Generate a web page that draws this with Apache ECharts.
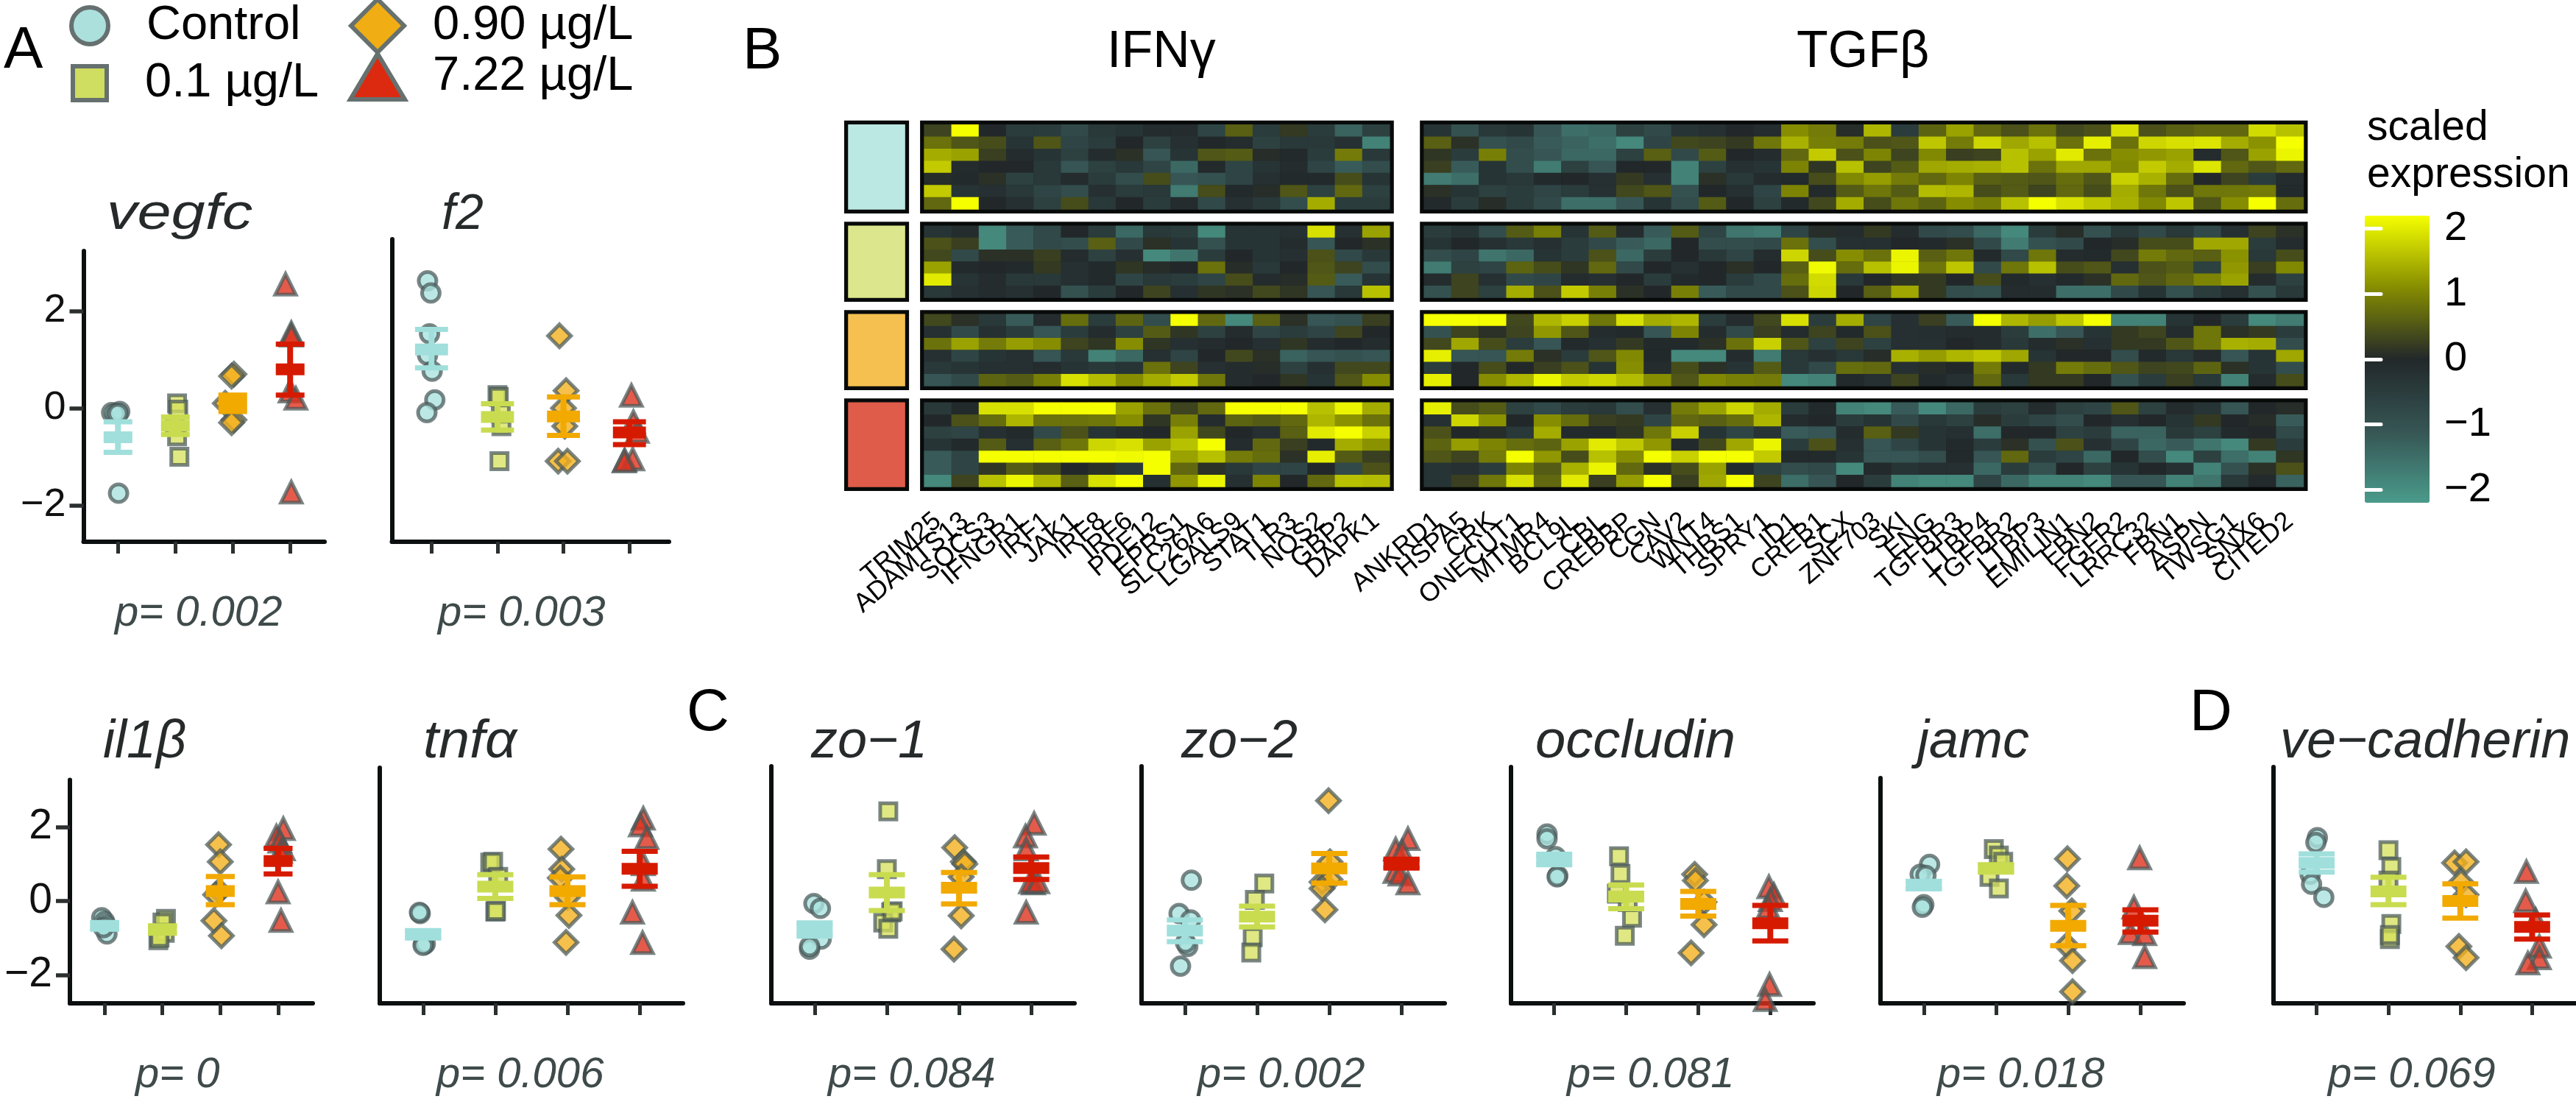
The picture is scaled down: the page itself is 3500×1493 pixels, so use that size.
<!DOCTYPE html>
<html><head><meta charset="utf-8">
<style>html,body{margin:0;padding:0;background:#fff}#c{width:3500px;height:1493px}</style>
<script src="https://cdn.jsdelivr.net/npm/echarts@6/dist/echarts.min.js"></script>
</head><body><div id="c"></div>
<script>
// ---------- data: dose groups ----------
const doseNames = ['Control', '0.1 µg/L', '0.90 µg/L', '7.22 µg/L'];
const doseSymbols = ['circle', 'rect', 'diamond', 'triangle'];
const doseSizes = [24, 22, 31, 28];
const doseFills = ['rgba(170,226,222,0.8)', 'rgba(214,224,90,0.75)', 'rgba(243,176,30,0.8)', 'rgba(222,50,30,0.8)'];
const doseBars = ['#a0dfdc', '#c9dc50', '#f2a900', '#d61a00'];
const legendFills = ['#abe0dd', '#cfdd60', '#f0ae14', '#dc2a10'];
const groupFills = ['#bce8e3', '#dce68c', '#f6c050', '#e05c4a'];
const yTicks = [-2, 0, 2];
const xTicks = [1, 2, 3, 4];

// ---------- data: points [x position, value] per dose, mean, upper and lower error ----------
const vegfcPts = [[[0.89,-0.09],[1.03,-0.07],[0.95,-0.11],[1,-0.11],[1.01,-1.75]],[[2.03,0.1],[2.05,-0.03],[2.03,-0.58],[2.07,-1],[1.99,-0.37]],[[3.02,0.7],[2.98,0.66],[3.02,-0.24],[2.98,-0.3],[2.87,0.1]],[[3.92,2.55],[4.02,1.55],[4.02,1.5],[4,0.35],[4.1,0.2],[4.02,-1.73]]];
const vegfcMean = [-0.6,-0.36,0.1,0.8];
const vegfcHi = [-0.28,-0.18,0.27,1.32];
const vegfcLo = [-0.91,-0.54,-0.07,0.27];
const f2Pts = [[[0.94,2.62],[0.99,2.37],[0.97,1.53],[0.94,1.09],[1.01,0.76],[1.05,0.17],[0.93,-0.09]],[[2,0.27],[2.02,0.23],[2.03,-1.09],[2.06,-0.37],[2.05,-0.11]],[[2.94,1.49],[3.04,0.36],[3.02,-0.37],[2.92,-1.09],[3.06,-1.09],[3,0]],[[4.03,0.26],[4.06,-0.28],[4.12,-0.48],[3.93,-1.07],[4.05,-1.05],[3.92,-1.09]]];
const f2Mean = [1.21,-0.18,-0.17,-0.5];
const f2Hi = [1.62,0.09,0.23,-0.28];
const f2Lo = [0.83,-0.45,-0.56,-0.75];
const il1bPts = [[[0.95,-0.45],[1,-0.55],[1.02,-0.65],[1.04,-0.89],[0.98,-0.72]],[[2.06,-0.48],[2,-0.58],[2.04,-0.86],[1.93,-1.06],[1.95,-0.99]],[[2.97,1.52],[3,1.06],[2.98,0.27],[2.92,0.17],[2.89,-0.53],[3.02,-0.94]],[[4.09,1.95],[3.97,1.75],[4.03,1.61],[4.09,1.4],[4.04,1.33],[4,0.24],[4.05,-0.53]]];
const il1bMean = [-0.67,-0.77,0.27,1.08];
const il1bHi = [-0.59,-0.67,0.66,1.42];
const il1bLo = [-0.75,-0.87,-0.1,0.73];
const tnfaPts = [[[0.96,-0.34],[0.95,-0.31],[1.01,-1.16],[1.03,-1.16],[1,-1.2]],[[1.93,1.04],[1.97,1.06],[2,-0.29],[2.01,-0.27],[2.04,0.65]],[[2.91,1.4],[2.92,0.86],[2.9,0.62],[3,0.1],[3.02,-0.39],[2.98,-1.12]],[[4.05,2.23],[4.01,2.05],[4.1,1.71],[4.05,1],[4.05,0.58],[3.9,-0.31],[4.04,-1.13]]];
const tnfaMean = [-0.9,0.39,0.27,0.87];
const tnfaHi = [-0.8,0.71,0.65,1.34];
const tnfaLo = [-1,0.07,-0.1,0.4];
const zo1Pts = [[[0.99,-0.07],[1.08,-0.2],[1.09,-1.03],[0.93,-1.3],[0.93,-1.23]],[[2.02,2.42],[2,0.86],[2.06,-0.31],[1.95,-0.58],[2.02,-0.75],[2.08,-0.28]],[[2.94,1.44],[3.06,1.06],[3.08,1],[3.03,0.65],[3.03,-0.4],[2.93,-1.3]],[[4.04,2.09],[3.92,1.75],[3.93,1.4],[4.03,0.48],[3.99,0.51],[4.09,0.51],[3.93,-0.31]]];
const zo1Mean = [-0.77,0.23,0.36,0.89];
const zo1Hi = [-0.59,0.71,0.77,1.19];
const zo1Lo = [-0.95,-0.26,-0.08,0.58];
const zo2Pts = [[[1.09,0.56],[0.92,-0.34],[1.08,-0.51],[1.04,-1.23],[1.01,-1.13],[0.94,-1.76]],[[2.1,0.47],[1.97,0.03],[1.94,-0.98],[1.92,-1.39]],[[2.99,2.71],[3.01,1.06],[2.9,0.51],[3.01,0.58],[2.94,-0.24],[2.9,0.34]],[[4.09,1.68],[3.92,1.4],[4.01,1.34],[3.91,0.79],[3.98,0.72],[4.09,0.48]]];
const zo2Mean = [-0.8,-0.42,0.88,1.01];
const zo2Hi = [-0.51,-0.14,1.28,1.13];
const zo2Lo = [-1.1,-0.7,0.48,0.89];
const occludinPts = [[[0.9,1.81],[0.9,1.68],[1.05,0.68],[1.04,0.65],[1.02,1.2]],[[1.9,1.21],[1.92,0.73],[1.87,0.2],[2.08,-0.45],[1.98,-0.94],[2.02,-0.03]],[[2.95,0.72],[2.96,0.55],[3.08,-0.03],[3.08,-0.64],[2.9,-1.4]],[[3.98,0.38],[4.05,0.17],[4,0.03],[3.97,-0.17],[3.99,-2.26],[3.93,-2.67]]];
const occludinMean = [1.12,0.12,-0.08,-0.6];
const occludinHi = [1.26,0.43,0.26,-0.12];
const occludinLo = [0.98,-0.21,-0.41,-1.08];
const jamcPts = [[[1.08,0.99],[0.95,0.72],[1.03,0.69],[1,-0.1],[0.98,-0.17]],[[1.97,1.4],[2.04,1.23],[2.1,1.06],[1.91,0.65],[2.04,0.34]],[[2.99,1.14],[2.98,0.41],[3.05,-0.27],[2.98,-1.2],[3.06,-1.61],[3.06,-2.45]],[[3.99,1.16],[3.91,-0.17],[3.86,-0.86],[4.06,-0.89],[4.06,-1.51]]];
const jamcMean = [0.43,0.88,-0.67,-0.53];
const jamcHi = [0.53,0.98,-0.12,-0.24];
const jamcLo = [0.33,0.78,-1.21,-0.84];
const vecadPts = [[[1.01,1.71],[0.99,1.58],[0.91,0.72],[0.93,0.45],[1.1,0.1]],[[2,1.37],[2.04,0.92],[2,0.55],[2.04,-0.62],[2.02,-1.03],[2.02,-0.92]],[[2.92,1.03],[3.08,1.06],[3.01,0.51],[3.08,0.17],[2.98,-1.23],[3.08,-1.53]],[[3.92,0.79],[3.91,0],[4.05,-0.51],[4.1,-1.23],[4.1,-1.54],[3.94,-1.68]]];
const vecadMean = [1.03,0.26,0,-0.7];
const vecadHi = [1.27,0.64,0.46,-0.38];
const vecadLo = [0.78,-0.1,-0.46,-1.03];

// ---------- data: heatmap ----------
const ifnGenes = ['TRIM25','ADAMTS13','SOCS3','IFNGR1','IRF1','JAK1','IRF8','IRF6','PDE12','EPRS1','SLC26A6','LGALS9','STAT1','TLR3','NOS2','GBP2','DAPK1'];
const tgfGenes = ['ANKRD1','HSPA5','CRK','ONECUT1','MTMR4','BCL9L','CBL','CREBBP','CGN','CAV2','WNT4','THBS1','SPRY1','ID1','CREB1','SCX','ZNF703','SKI','ENG','TGFBR3','LTBP4','TGFBR2','LTBP3','EMILIN1','FBN2','FGFR2','LRRC32','FBN1','ASPN','TWSG1','SNX6','CITED2'];
const ifnControl = [
[.3,2.2,0,-.5,-.5,-.8,-.4,-.3,-.1,-.1,-.7,.6,-.5,.2,-.5,-1.3,-.6],
[.8,.5,.4,-.3,.5,-.7,-.5,0,-.6,-.2,0,-.1,-.6,-.4,-.4,-.2,-1.8],
[1.4,1.3,.25,-.1,-.3,-.6,-.1,.1,-1.1,-.3,.5,.55,.05,-.05,-.5,.9,-.4],
[1.7,-.1,0,0,-.4,-1.1,-.6,-.4,-.7,-1.4,-.05,-.7,-.3,-.1,-.7,-1.2,-.9],
[.05,-.05,.1,-.6,-.4,-.1,-.5,-.9,.4,-1.1,-1,-.7,-.2,-.05,-.05,.4,-.3],
[1.7,-.3,-.2,-.4,-.7,-.9,-.2,-.5,-.4,-1.7,.4,-.05,.05,.5,-.6,.7,-.6],
[.7,2.2,0,-.2,-.6,.4,-.4,0,-.5,-.1,-.8,-.2,-.4,-.9,1.4,-.5,-.5]];
const ifnLow = [
[-.3,-.1,-1.9,-1.2,-.8,0,-.5,-1.4,-.4,-.5,-1.9,-.3,-.3,-.2,1.9,-.2,1.3],
[.45,.25,-1.9,-1.2,-.8,-.9,.6,-.8,.1,-.3,-1,-.3,-.3,-.1,-1.1,0,.1],
[.35,-.8,.1,.1,.25,-.1,-.6,-.2,-1.9,-1.6,-.5,0,-.3,-.2,.45,-.8,-.4],
[1.3,-.05,0,-.05,.2,-.2,-.05,.15,.05,0,.8,.05,-.4,0,.5,.3,-.9],
[2,-.3,-.1,-.4,-.4,-.2,-.05,-.7,-.4,-.5,-.7,.4,-.1,.05,.55,-1.2,-.3],
[-.4,-.2,-.1,-.2,0,-1,-.5,0,.3,-.2,.15,.1,.35,.15,-1.1,-.4,1.6]];
const ifnMid = [
[.35,.1,-.4,-1.2,-.1,.75,-.5,.65,-.9,2.2,.7,-1.9,.6,.1,-1.1,-1,.25],
[-.2,-.8,-.2,-.5,-1.1,-.5,-.1,-.6,.55,.15,-.6,-.1,-.7,-.5,-.7,.3,0],
[.8,1.3,.9,1.25,1.1,.3,.15,1.1,.15,-.2,-.1,0,-.2,.15,-.1,0,-.1],
[-.2,-.7,-.3,-.2,-1.1,-.4,-1.8,-1.4,-.2,-.7,0,.35,.1,-1.3,-1.1,-1,-1.1],
[-.4,-.3,-.2,-.2,-.1,-.3,-.4,-.3,.8,.3,-.2,-.1,.05,-.6,-.2,.35,.35],
[-1.1,-.8,.65,.55,.95,1.9,1.55,1.1,1.4,1.7,.85,-.1,0,.15,-.3,.5,1.1]];
const ifnHigh = [
[-.4,-.05,1.9,1.9,2.2,2.2,2.2,1.3,.8,.3,.7,2.2,2.2,2.2,1.6,2.1,1.4],
[0,.45,.75,1.5,.8,.8,.85,1.1,.15,.95,-.1,.65,.55,.7,1.5,1.15,.8],
[-.6,-.7,-.2,-.05,-.8,.45,-.3,-.1,0,1.3,.35,0,-.2,.6,2,2.2,1.75],
[-.3,-.05,.55,-.2,.6,.85,1.8,1.9,1.3,1.6,2.2,-.1,.7,.25,-.05,1.4,1.15],
[-1.2,-.7,2.2,2.2,2.2,2.2,2.2,2.15,2.2,1.3,1.6,.9,.75,.1,2.05,.55,.25],
[-1.2,-.7,.15,.55,.35,0,.1,-.4,2.2,.7,.1,-.4,-.7,-.7,0,-.8,.45],
[-1.9,.3,1.6,2.1,1.5,.6,1.9,2.2,-.2,1.2,2.1,-.2,1,0,.7,1.6,1.55]];
const tgfControl = [
[-.3,-1,-.4,-.3,-1.1,-1.5,-1.4,-.6,-.8,-.3,-.2,0,-.1,1.1,.9,.05,1.5,-.5,.65,1.3,.7,.45,.8,.35,.45,1.9,.45,.6,.7,.7,1.85,1.6],
[.6,.1,-1,-.8,-1.2,-1.3,-1.5,-1.9,-.7,.35,.3,.2,.85,1.45,.95,.9,.45,.5,1.65,.9,1.8,1.35,1.6,.8,2.05,.8,1.8,1.9,1.95,1.4,1.15,2.2],
[.15,-.5,.95,-.9,-1.1,-1.4,-1.4,-.6,.6,-.8,.55,0,-.1,.7,1.7,.45,1,.3,1.05,.25,.3,1.6,1.3,2,.8,1.1,1.2,1.3,-.1,.5,1.3,2.1],
[.25,-1.2,-.3,-.9,-1.7,-.6,-1.1,0,0,-1.8,-.6,-.2,-.3,1,.15,1.6,.3,.55,1.35,1.4,1.45,1.6,.8,1.35,1.35,1.05,1.7,1.4,1.95,.7,.5,.7],
[-1.7,-1.5,-.3,-.4,-.05,0,-.2,.2,-.2,-1.8,.1,-.4,-.1,-.05,.4,1.05,1.25,.9,.7,1,.6,.55,.5,.75,.5,1.75,1.45,.75,0,.3,-.5,-.1],
[.1,-.3,-.6,-.5,-.7,-.5,-.2,.35,.5,-1,0,-.2,-.7,1,-.05,.55,.85,.55,1.55,1.5,.4,.55,.3,.7,.4,1.4,.85,.45,.85,.85,.9,-.05],
[-.05,-.5,.05,-.5,-.8,-1.5,-1.5,-1.1,-.3,-.9,.55,0,-.6,-.05,.35,1.4,.4,.85,.65,1.1,.95,1.6,2.2,1.9,1.65,1.45,1.05,1.65,.5,1.1,2.2,.75]];
const tgfLow = [
[-.5,-.3,-.9,.55,.95,-.3,.55,-.1,-1.2,.55,-.7,-1.6,-1.7,-.7,.05,-.1,.2,-.1,-.8,-.9,-1.4,-1.9,-.5,.05,-1,-.4,-.8,-.4,-.8,-.2,.3,.1],
[-.3,0,-.2,-.4,-.2,-.5,-.8,-1.2,-1.4,0,-.9,-.9,-.8,.8,-.9,-.2,-.2,0,-.05,.1,-.8,-1.7,-1,-.8,0,.05,.4,.4,1.35,1.35,-.5,-.1],
[-.9,-.7,-1.6,-1.4,-.3,-.5,.45,-1.4,-.5,0,-.4,-.7,-.1,1.8,.4,1.1,.8,2.1,.6,.85,-.05,-.8,.85,-.1,-.05,.35,.9,.7,.6,1.15,-.4,.4],
[-1.7,-.6,-.7,.65,.4,.15,.7,-.8,0,-.2,0,.1,0,.6,2.15,.75,1.6,2.1,.85,1.65,-.8,.85,1.6,.4,.5,-.2,.45,.55,-.6,1.2,.25,1.05],
[-.1,.3,-.2,-.8,-.7,-.1,-.2,0,-.5,-.05,0,-.5,-.8,.75,1.85,-.4,0,.15,.2,0,.4,-.05,-.2,-.05,.1,.7,.5,.7,1,1.3,-.1,-.6],
[-1,.3,-.6,1.4,.45,1.7,.95,.1,0,.95,-1.2,-.8,-.8,.45,1.8,0,.6,1.35,.2,-.9,-1,-.1,-.1,-1.5,-1.5,-.8,-.3,-1,-.5,-.2,-1,-.4]];
const tgfMid = [
[2.2,2.2,2.2,.35,1.5,1.75,.85,1.9,1.4,1.5,-.5,-.1,.35,1.9,-.5,1.4,-.7,-.2,.25,-1.2,2.2,1.5,1.25,1.65,2.2,-1.8,-1.8,-.3,0,-.5,-1.9,-1.7],
[-1,.3,.1,.3,1.2,.5,-.1,-.05,-1.1,1,-.1,-.8,.25,-.1,.3,-.05,.45,-.2,-.15,-.1,-.1,-.5,-1.5,-1.1,-.3,.2,.3,-.1,.85,.1,.2,-.5],
[.35,1.35,.4,-.5,-1.1,-.05,-.2,.2,-.05,-.05,.1,.8,1.75,.5,-.6,.3,-.6,-.2,-.2,0,-.1,-.4,-.1,.1,-.2,.2,.2,.5,.85,1.45,1.4,-.9],
[2.05,-1.1,-1.1,.9,.1,-.5,.5,1.05,-.02,-1.9,-1.9,-.1,-1.7,-.4,-.2,-.4,.05,1.45,1.25,1.5,1.65,1.35,-.3,0,0,-.9,-.05,-.4,-.1,-1.1,-.3,1.35],
[-.5,0,.4,0,.25,.45,-.3,1.1,-.1,.4,.1,-.3,.55,-.4,-.8,.75,.7,-.2,.05,0,.9,-.05,.2,.9,.75,.5,.3,.35,.65,.1,-.3,-.9],
[2.05,0,1.1,1.5,2.1,1.7,1.8,1.55,1.1,.5,1.05,.95,.9,-1.9,-1.8,-.05,-.2,.3,-.05,-.2,.7,-.4,.2,.2,0,-1,-.5,.25,-.4,-1.8,-.1,.4]];
const tgfHigh = [
[2.05,.4,.55,-.6,-.8,-.5,-.4,-.9,-.2,.9,1.3,1.8,1.4,-.5,-.05,-1.8,-1.9,-1.2,-1.9,-1.4,-.5,-.6,-.1,-.6,-.7,.5,-.6,-.1,-.3,-1.1,0,.05],
[-.2,1.8,1.15,0,1.1,.75,.25,.2,-.7,.7,.6,.75,1.5,-.1,0,-.5,-.3,-.8,-.4,-.6,.05,-.5,-.7,-.9,0,-.2,0,-.3,.2,0,.05,-1.2],
[.45,0,.05,-.4,1.4,-.05,-.05,.15,.85,1.75,-.3,-.7,-.3,-1.2,-1.1,-.1,.6,.2,-.3,-.2,-1.5,0,0,-.6,-.5,-1.3,-1.3,-.4,-.6,-.05,0,-.8],
[.65,1.25,1,.75,.65,1.3,2,1.65,1.2,-.05,.35,1.35,2.1,-.5,.45,-.2,-1.1,-.7,-.3,-.05,-.5,.1,-1,.45,-.2,-.7,-1.4,-1.2,-1.6,-1.9,.2,-.5],
[.5,.3,.9,2.2,1.2,.4,1.6,1.1,2.2,1.75,2.2,2.2,1.7,-.05,-.05,-.3,-1.1,-1.1,-.9,-.05,-1.1,.7,-.5,-.7,-1.4,0,-.9,-1.9,-.6,-1.5,-1.8,.15],
[-.3,-.2,-.5,1,.55,1.45,2.1,.7,.1,.4,1.3,-.05,-.6,-.9,-.8,-1.9,-.05,-.3,-.2,-.2,-1.4,-.5,-1,0,-.6,-.3,0,-.2,-1.8,-1,.1,.45],
[-.3,.25,.85,1.9,.7,2,.25,1.25,2.2,.25,1.35,2.2,.3,-1.5,-1.1,0,-.5,-1.8,-1.9,-1.9,-.7,-1.4,-1.8,-1.8,-1.9,-1.1,-1.1,-1.8,-1.6,-.4,-.05,-1.3]];
const scaleTicks = [-2, -1, 0, 1, 2];
const scaleColors = ['#4a9b8b', '#365554', '#22282a', '#868d00', '#f5ff00'];

// ---------- layout ----------
const FONT = '"Liberation Sans", Arial, sans-serif';
const topRow = { zero: 554.5, unit: 66, bottom: 736, pY: 851, tY: 312, tSize: 68 };
const botRow = { zero: 1224, unit: 50.3, bottom: 1363, pY: 1478, tY: 1030, tSize: 72 };
const panels = [
 {t:'vegfc', row:topRow, l:113.5, r:441, top:341, ticks:true, pts:vegfcPts, m:vegfcMean, hi:vegfcHi, lo:vegfcLo, p:'p= 0.002', tX:145, tS:1.22, pX:156},
 {t:'f2', row:topRow, l:532.5, r:909, top:325, pts:f2Pts, m:f2Mean, hi:f2Hi, lo:f2Lo, p:'p= 0.003', tX:600, tS:1, pX:595},
 {t:'il1β', row:botRow, l:95, r:425, top:1059.5, ticks:true, pts:il1bPts, m:il1bMean, hi:il1bHi, lo:il1bLo, p:'p= 0', tX:140, tS:1, pX:184},
 {t:'tnfα', row:botRow, l:516, r:928, top:1043, pts:tnfaPts, m:tnfaMean, hi:tnfaHi, lo:tnfaLo, p:'p= 0.006', tX:575, tS:1.05, pX:593},
 {t:'zo−1', row:botRow, l:1048, r:1460, top:1041, pts:zo1Pts, m:zo1Mean, hi:zo1Hi, lo:zo1Lo, p:'p= 0.084', tX:1102, tS:1, pX:1125},
 {t:'zo−2', row:botRow, l:1551, r:1963, top:1041, pts:zo2Pts, m:zo2Mean, hi:zo2Hi, lo:zo2Lo, p:'p= 0.002', tX:1605, tS:1, pX:1627},
 {t:'occludin', row:botRow, l:2053, r:2464, top:1042, pts:occludinPts, m:occludinMean, hi:occludinHi, lo:occludinLo, p:'p= 0.081', tX:2086, tS:1.03, pX:2129},
 {t:'jamc', row:botRow, l:2555, r:2967, top:1057, pts:jamcPts, m:jamcMean, hi:jamcHi, lo:jamcLo, p:'p= 0.018', tX:2605, tS:1, pX:2632},
 {t:'ve−cadherin', row:botRow, l:3089, r:3499, top:1042, pts:vecadPts, m:vecadMean, hi:vecadHi, lo:vecadLo, p:'p= 0.069', tX:3098, tS:1, pX:3163}
];
const heatRows = [
 {top:169.3, bottom:284.4, ifn:ifnControl, tgf:tgfControl},
 {top:306.8, bottom:404.4, ifn:ifnLow, tgf:tgfLow},
 {top:426.8, bottom:524.4, ifn:ifnMid, tgf:tgfMid},
 {top:546.8, bottom:661.6, ifn:ifnHigh, tgf:tgfHigh}
];
const annX = [1152.5, 1229.6], ifnX = [1255.6, 1888.3], tgfX = [1934.7, 3130];

const grid = [], xAxis = [], yAxis = [], series = [], graphic = [], heatIdx = [];
const label = (text, x, baseline, size, extra) => graphic.push(Object.assign({
  type:'text', x, y:baseline + size*0.212, silent:true, z:20,
  style:{text, fontSize:size, fontFamily:FONT, fill:'#000', verticalAlign:'bottom', align:'left'}
}, extra && extra.scaleX ? {scaleX:extra.scaleX} : {}, extra && extra.style ? {style:Object.assign({text, fontSize:size, fontFamily:FONT, fill:'#000', verticalAlign:'bottom', align:'left'}, extra.style)} : {}));

// ---------- dot-plot panels ----------
function crossbar(params, api) {
  const x = api.value(0), c = doseBars[x-1];
  const pm = api.coord([x, api.value(1)]), ph = api.coord([x, api.value(2)]), pl = api.coord([x, api.value(3)]);
  const w = api.size([0.5, 0])[0];
  const rect = (cx, y, wd, h) => ({type:'rect', shape:{x:cx-wd/2, y, width:wd, height:h}, style:{fill:c}});
  return {type:'group', children:[
    rect(pm[0], ph[1], 8, pl[1]-ph[1]),
    rect(pm[0], ph[1]-3.5, w, 7),
    rect(pm[0], pl[1]-3.5, w, 7),
    rect(pm[0], pm[1]-8, w, 16)
  ]};
}
panels.forEach(p => {
  const g = grid.length, R = p.row;
  grid.push({left:p.l, top:p.top, width:p.r-p.l, height:R.bottom-p.top});
  xAxis.push({gridIndex:g, type:'value', min:0.4, max:4.6, splitLine:{show:false},
    axisLine:{onZero:false, lineStyle:{color:'#0c0f0f', width:6}},
    axisTick:{customValues:xTicks, length:16, lineStyle:{color:'#2b2f2f', width:5}},
    axisLabel:{show:false}});
  yAxis.push({gridIndex:g, type:'value', min:(R.zero-R.bottom)/R.unit, max:(R.zero-p.top)/R.unit, splitLine:{show:false},
    axisLine:{onZero:false, lineStyle:{color:'#0c0f0f', width:6}},
    axisTick:p.ticks ? {customValues:yTicks, length:19, lineStyle:{color:'#2b2f2f', width:5.5}} : {show:false},
    axisLabel:p.ticks ? {customValues:yTicks, margin:24, fontSize:R===topRow?54:57, color:'#111', fontFamily:FONT,
      formatter:v => String(v).replace('-', '−')} : {show:false}});
  p.pts.forEach((pts, d) => series.push({
    type:'scatter', name:doseNames[d], xAxisIndex:g, yAxisIndex:g, data:pts, z:3,
    symbol:doseSymbols[d], symbolSize:doseSizes[d], clip:true, silent:true,
    itemStyle:{color:doseFills[d], borderColor:'rgba(72,88,88,0.72)', borderWidth:5, opacity:1}
  }));
  series.push({type:'custom', xAxisIndex:g, yAxisIndex:g, z:5, silent:true, renderItem:crossbar,
    encode:{x:0, y:[1,2,3]},
    data:xTicks.map((x,i) => [x, p.m[i], p.hi[i], p.lo[i]])});
  label(p.t, p.tX, R.tY, R.tSize, {scaleX:p.tS, style:{fontStyle:'italic', fill:'#262a2a'}});
  label(p.p, p.pX, R.pY, 58, {style:{fontStyle:'italic', fill:'#3f4a4a'}});
});

// ---------- heatmaps ----------
function heatCells(m) { const out=[]; m.forEach((row,r)=>row.forEach((v,c)=>out.push([c,r,v]))); return out; }
function block(xr, rowDef, genes, matrix, showLabels) {
  const g = grid.length;
  grid.push({left:xr[0], top:rowDef.top, width:xr[1]-xr[0], height:rowDef.bottom-rowDef.top, show:true,
    backgroundColor:'#000', borderColor:'#080a0a', borderWidth:11});
  xAxis.push({gridIndex:g, type:'category', data:genes, axisLine:{show:false}, axisTick:{show:false}, splitLine:{show:false},
    axisLabel:showLabels ? {show:true, interval:0, rotate:40, margin:42, fontSize:36, color:'#000', fontFamily:FONT} : {show:false}});
  yAxis.push({gridIndex:g, type:'category', inverse:true, data:matrix.map((_,i)=>i), axisLine:{show:false}, axisTick:{show:false}, axisLabel:{show:false}, splitLine:{show:false}});
  return g;
}
heatRows.forEach((rowDef, i) => {
  const last = i === heatRows.length-1;
  // annotation block for the dose
  const a = block(annX, rowDef, ['dose'], [[0]], false);
  series.push({type:'heatmap', xAxisIndex:a, yAxisIndex:a, silent:true, z:2, data:[[0,0,i]], itemStyle:{color:groupFills[i]}});
  [[ifnX, ifnGenes, rowDef.ifn], [tgfX, tgfGenes, rowDef.tgf]].forEach(([xr, genes, m]) => {
    const g = block(xr, rowDef, genes, m, last);
    heatIdx.push(series.length);
    series.push({type:'heatmap', xAxisIndex:g, yAxisIndex:g, silent:true, z:2, data:heatCells(m), progressive:0});
  });
});

// ---------- colour scale axis overlay ----------
const sg = grid.length;
grid.push({left:3213, top:293, width:88, height:390, z:10});
xAxis.push({gridIndex:sg, type:'value', min:0, max:1, show:false});
const scaleTick = {customValues:scaleTicks, inside:true, length:22, lineStyle:{color:'#fff', width:5, cap:'round'}};
yAxis.push({gridIndex:sg, type:'value', position:'right', min:-2.2, max:2.2, z:10, splitLine:{show:false}, axisLine:{show:false},
  axisTick:scaleTick, axisLabel:{customValues:scaleTicks, margin:20, fontSize:56, color:'#000', fontFamily:FONT, align:'left',
    formatter:v => String(v).replace('-', '−')}});
yAxis.push({gridIndex:sg, type:'value', position:'left', min:-2.2, max:2.2, z:10, splitLine:{show:false}, axisLine:{show:false},
  axisTick:scaleTick, axisLabel:{show:false}});

// ---------- free text ----------
[['A',5,93],['B',1009,94],['C',933,993],['D',2975,993]].forEach(t => label(t[0], t[1], t[2], 80));
label('IFNγ', 1504, 92, 70);
label('TGFβ', 2441, 92, 70);
label('scaled', 3216, 191, 57);
label('expression', 3216, 254.6, 57);

// ---------- legend ----------
const legendLayout = [
 {cx:119, cy:35, w:50, h:50, textX:196, pad:[0,0,0]},
 {cx:119, cy:113, w:46, h:46, textX:194, pad:[0,12,0]},
 {cx:510, cy:35, w:72, h:72, textX:585, pad:[0,12,0]},
 {cx:510, cy:104, w:74, h:62, textX:585, pad:[6,0,0]}
];
const legend = doseNames.map((name,i) => {
  const L = legendLayout[i], rowH = 72 + L.pad[0] + L.pad[1];
  return {left:L.cx-L.w/2, top:L.cy-rowH/2, padding:0, itemGap:0, itemWidth:L.w, itemHeight:L.h, selectedMode:false,
    data:[{name, icon:doseSymbols[i], itemStyle:{color:legendFills[i], borderColor:'#66716f', borderWidth:6, opacity:1}}],
    textStyle:{fontSize:65, fontFamily:FONT, color:'#000', lineHeight:72,
      padding:[L.pad[0], 0, L.pad[1], L.textX-(L.cx+L.w/2+5)]}};
});

const chart = echarts.init(document.getElementById('c'), null, {renderer:'canvas'});
chart.setOption({
  animation:false, backgroundColor:'#fff', grid, xAxis, yAxis, series, graphic, legend,
  visualMap:[{type:'continuous', show:true, seriesIndex:heatIdx, dimension:2, min:-2.2, max:2.2, calculable:false,
    left:3213, top:293, padding:0, itemWidth:88, itemHeight:390, orient:'vertical', text:null, z:4, hoverLink:false,
    inRange:{color:scaleColors}}]
});
</script></body></html>
